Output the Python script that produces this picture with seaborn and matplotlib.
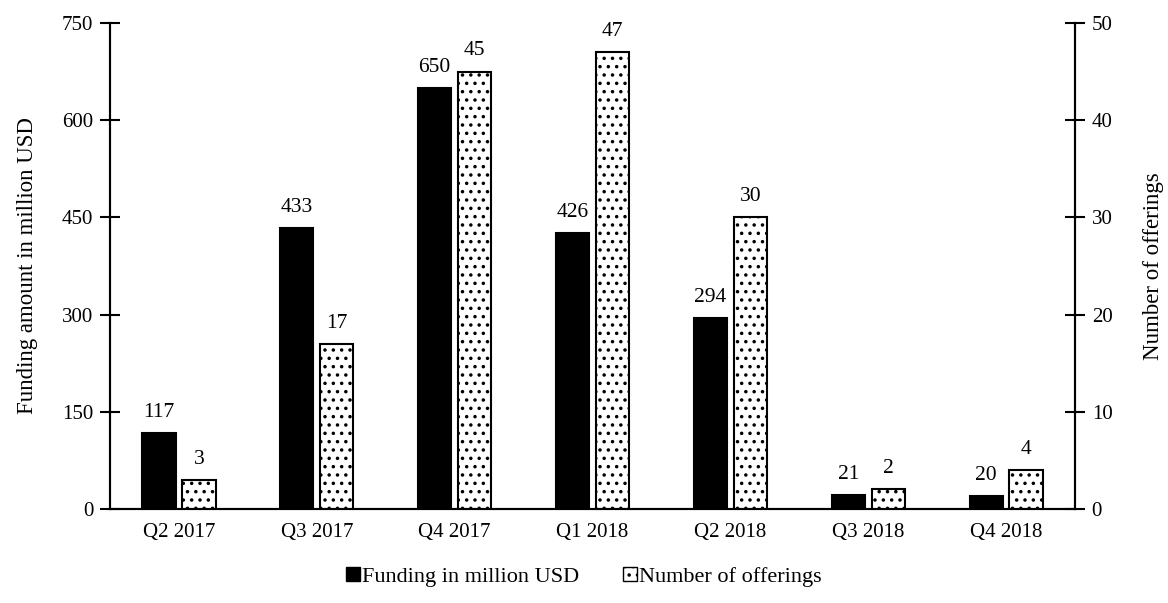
import pandas as pd
import numpy as np
import matplotlib
matplotlib.use('Agg')
import matplotlib.pyplot as plt
import seaborn as sns
from matplotlib.patches import Patch

sns.set_style('white')
plt.rcParams['font.family'] = ['Liberation Serif', 'DejaVu Serif']
plt.rcParams['hatch.linewidth'] = 1.3
plt.rcParams['text.color'] = 'black'
plt.rcParams['axes.labelcolor'] = 'black'
plt.rcParams['xtick.color'] = 'black'
plt.rcParams['ytick.color'] = 'black'

# data ------------
quarters = ['Q2 2017', 'Q3 2017', 'Q4 2017', 'Q1 2018', 'Q2 2018', 'Q3 2018', 'Q4 2018']
funding = [117, 433, 650, 426, 294, 21, 20]
offerings = [3, 17, 45, 47, 30, 2, 4]
series = ['Funding in million USD', 'Number of offerings']

df_f = pd.DataFrame({'quarter': quarters, 'value': funding, 'series': series[0]})
df_n = pd.DataFrame({'quarter': quarters, 'value': offerings, 'series': series[1]})

fig = plt.figure(figsize=(11.68, 6.03), dpi=100)
ax = fig.add_axes([0.0942, 0.156, 0.8262, 0.806])
ax2 = ax.twinx()

fs = 15
sns.barplot(data=df_f, x='quarter', y='value', hue='series', hue_order=series,
            order=quarters, ax=ax, width=0.58, gap=0.17, dodge=True,
            palette=['black', 'white'], edgecolor='black', linewidth=1.5,
            legend=False)
sns.barplot(data=df_n, x='quarter', y='value', hue='series', hue_order=series,
            order=quarters, ax=ax2, width=0.58, gap=0.17, dodge=True,
            palette=['black', 'white'], edgecolor='black', linewidth=1.5,
            legend=False)
for p in ax2.patches:
    p.set_hatch('..')
    p.set_facecolor('white')

for c in ax.containers:
    ax.bar_label(c, fmt='%d', padding=8, fontsize=15.5)
for c in ax2.containers:
    ax2.bar_label(c, fmt='%d', padding=8, fontsize=15.5)

ax.set_ylim(0, 750)
ax.set_yticks(np.arange(0, 751, 150))
ax2.set_ylim(0, 50)
ax2.set_yticks(np.arange(0, 51, 10))
ax.set_xlim(-0.5, 6.5)

ax.set_xlabel('')
ax2.set_xlabel('')
ax.set_ylabel('Funding amount in million USD', fontsize=16.5, labelpad=17)
ax2.set_ylabel('Number of offerings', fontsize=16.5, labelpad=22)

for a in (ax, ax2):
    a.spines['top'].set_visible(False)
    for s in a.spines.values():
        s.set_color('black')
        s.set_linewidth(1.5)
ax.tick_params(axis='y', direction='inout', length=14, width=1.5, labelsize=fs, pad=5)
ax2.tick_params(axis='y', direction='inout', length=14, width=1.5, labelsize=fs, pad=5)
ax.tick_params(axis='x', length=0, labelsize=fs, pad=10)

handles = [Patch(facecolor='black', edgecolor='black', label=series[0]),
           Patch(facecolor='white', edgecolor='black', hatch='..', label=series[1])]
fig.legend(handles=handles, loc='center', bbox_to_anchor=(0.5, 0.043), ncol=2,
           frameon=False, fontsize=16, handlelength=0.6, handleheight=0.6,
           handletextpad=0.1, columnspacing=2.0)

plt.savefig('out.png', dpi=100)
